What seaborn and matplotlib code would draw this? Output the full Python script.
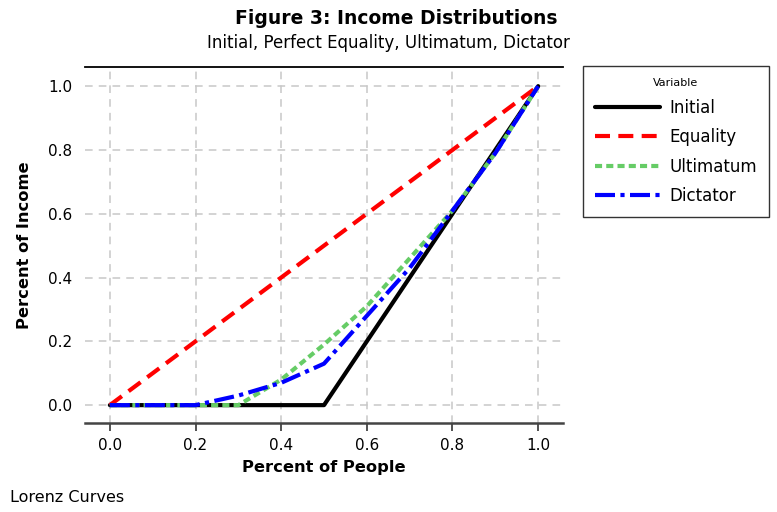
import matplotlib
matplotlib.use("Agg")
import matplotlib.pyplot as plt
import numpy as np
import pandas as pd
import seaborn as sns

# Lorenz curve data: cumulative share of people vs cumulative share of income
people = [0.0, 0.1, 0.2, 0.3, 0.4, 0.5, 0.6, 0.7, 0.8, 0.9, 1.0]
initial = [0.0, 0.0, 0.0, 0.0, 0.0, 0.0, 0.2, 0.4, 0.6, 0.8, 1.0]
equality = [0.0, 0.1, 0.2, 0.3, 0.4, 0.5, 0.6, 0.7, 0.8, 0.9, 1.0]
ultimatum = [0.0, 0.0, 0.0, 0.0, 0.08, 0.19, 0.31, 0.46, 0.61, 0.79, 1.0]
dictator = [0.0, 0.0, 0.0, 0.03, 0.07, 0.13, 0.28, 0.43, 0.61, 0.79, 1.0]

series_names = ["Initial", "Equality", "Ultimatum", "Dictator"]
series_values = [initial, equality, ultimatum, dictator]
colors = ["#000000", "#ff0000", "#66cc66", "#0000ff"]
tick_vals = [0.0, 0.2, 0.4, 0.6, 0.8, 1.0]

frames = []
for name, vals in zip(series_names, series_values):
    frames.append(pd.DataFrame({"people": people, "income": vals, "Variable": name}))
df = pd.concat(frames, ignore_index=True)

sns.set_theme(style="white")
plt.rcParams["font.family"] = ["DejaVu Sans"]
plt.rcParams["text.color"] = "#000000"
plt.rcParams["axes.labelcolor"] = "#000000"
plt.rcParams["xtick.color"] = "#000000"
plt.rcParams["ytick.color"] = "#000000"

fig = plt.figure(figsize=(7.77, 5.12), dpi=100)
ax = fig.add_axes([85 / 777, 1 - 423 / 512, (563 - 85) / 777, (423 - 67) / 512])

palette = dict(zip(series_names, colors))
dashes = {
    "Initial": "",
    "Equality": (3.6, 2.0),
    "Ultimatum": (1.7, 1.0),
    "Dictator": (4.8, 1.3, 1.0, 1.3),
}
sns.lineplot(data=df, x="people", y="income", hue="Variable", style="Variable",
             palette=palette, dashes=dashes, linewidth=3.0, ax=ax,
             estimator=None, sort=False)

ax.set_xlim(-0.058, 1.058)
ax.set_ylim(-0.056, 1.06)
ax.set_xticks(tick_vals)
ax.set_yticks(tick_vals)
ax.set_xticklabels([f"{v:.1f}" for v in tick_vals])
ax.set_yticklabels([f"{v:.1f}" for v in tick_vals])
ax.grid(True, color="#c8c8c8", linestyle=(0, (5, 4)), linewidth=1.1)
ax.set_axisbelow(True)

for side in ("left", "right"):
    ax.spines[side].set_visible(False)
ax.spines["top"].set_color("#000000")
ax.spines["top"].set_linewidth(1.3)
ax.spines["bottom"].set_color("#444444")
ax.spines["bottom"].set_linewidth(1.8)

ax.tick_params(axis="x", which="both", bottom=True, length=6, width=1.3,
               color="#444444", labelsize=11, pad=5, labelcolor="#000000")
ax.tick_params(axis="y", length=0, labelsize=11, pad=9, labelcolor="#000000")

ax.set_xlabel("Percent of People", fontsize=11.7, fontweight="bold", labelpad=5)
ax.set_ylabel("Percent of Income", fontsize=11.7, fontweight="bold", labelpad=12)

leg = ax.legend(title="Variable", loc="upper left",
                bbox_to_anchor=(583 / 777, 1 - 66 / 512),
                bbox_transform=fig.transFigure,
                fontsize=12, title_fontsize=8, frameon=True, fancybox=False,
                handlelength=3.9, handletextpad=0.6, borderpad=0.7,
                labelspacing=0.68, borderaxespad=0)
leg.get_frame().set_edgecolor("#000000")
leg.get_frame().set_linewidth(1.0)
for txt in leg.get_texts():
    txt.set_color("#000000")
leg.get_title().set_color("#000000")

fig.text(0.51, 1 - 18 / 512, "Figure 3: Income Distributions", ha="center",
         va="center", fontsize=13.5, fontweight="bold")
fig.text(0.50, 1 - 43 / 512, "Initial, Perfect Equality, Ultimatum, Dictator",
         ha="center", va="center", fontsize=12)
fig.text(10 / 777, 1 - 497 / 512, "Lorenz Curves", ha="left", va="center",
         fontsize=11.5)

fig.savefig("out.png", dpi=100)
